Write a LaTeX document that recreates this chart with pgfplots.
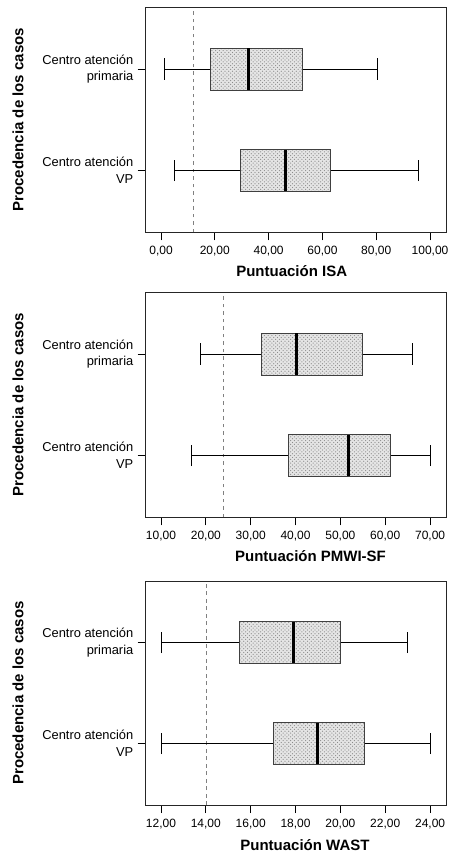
\documentclass[border=0pt]{standalone}
\usepackage{pgfplots}
\pgfplotsset{compat=1.18}
\usepgfplotslibrary{statistics}
\usetikzlibrary{patterns}
\usepackage{fontspec}
\setmainfont{Liberation Sans}
\begin{document}
\begin{tikzpicture}
\pgfplotsset{
  panel/.style={
    scale only axis,
    width=240.8pt,
    height=180pt,
    ymin=0.39, ymax=2.61,
    ytick={1,2},
    yticklabels={{Centro atención\\VP},{Centro atención\\primaria}},
    yticklabel style={align=right,font=\fontsize{10.3}{13.4}\selectfont},
    xticklabel style={font=\fontsize{9.6}{11}\selectfont, yshift=-1.5pt},
    tick align=outside,
    xtick pos=lower, ytick pos=left,
    major tick length=6.4pt,
    tick style={black, line width=0.6pt},
    axis line style={black!85, line width=0.7pt},
    /pgf/number format/.cd, fixed, fixed zerofill, precision=2, use comma, assume math mode=true,
    /pgfplots/.cd,
    ylabel={Procedencia de los casos},
    ylabel style={font=\fontsize{12}{14}\selectfont\bfseries, at={(axis description cs:-0.4244,0.5)}, anchor=center, rotate=0},
    boxplot/draw direction=x,
    boxplot/box extend=0.41,
    boxplot/whisker extend=0.21,
    boxplot/every box/.style={draw=black!75, line width=0.6pt, fill=black!10,
      postaction={pattern=crosshatch dots, pattern color=black!45}},
    boxplot/every whisker/.style={draw=black, line width=0.6pt},
    boxplot/every median/.style={draw=black, line width=2.4pt},
    clip=false,
  },
}
\useasboundingbox (0,0) rectangle (360pt,-684pt);
% Panel 1: ISA
\begin{axis}[panel, at={(116.56pt,-5.84pt)}, anchor=north west,
  xmin=-5.7, xmax=106.2, xtick={0,20,40,60,80,100},
  xlabel={Puntuación ISA},
  xlabel style={font=\fontsize{12}{14}\selectfont\bfseries, at={(axis description cs:0.485,-0.197)}, anchor=base}]
\addplot [gray, dashed, line width=0.5pt, forget plot] coordinates {(12,0.39) (12,2.61)};
\addplot [black, boxplot prepared={draw position=1, lower whisker=4.8, lower quartile=29.6, median=46.4, upper quartile=62.8, upper whisker=95.5}] coordinates {};
\addplot [black, boxplot prepared={draw position=2, lower whisker=1.2, lower quartile=18.5, median=32.6, upper quartile=52.5, upper whisker=80.4}] coordinates {};
\end{axis}
% Panel 2: PMWI-SF
\begin{axis}[panel, at={(116.56pt,-233.84pt)}, anchor=north west,
  xmin=6.59, xmax=73.7, xtick={10,20,30,40,50,60,70},
  xlabel={Puntuación PMWI-SF},
  xlabel style={font=\fontsize{12}{14}\selectfont\bfseries, at={(axis description cs:0.5475,-0.197)}, anchor=base}]
\addplot [gray, dashed, line width=0.5pt, forget plot] coordinates {(24,0.39) (24,2.61)};
\addplot [black, boxplot prepared={draw position=1, lower whisker=16.8, lower quartile=38.4, median=51.9, upper quartile=61.1, upper whisker=70.0}] coordinates {};
\addplot [black, boxplot prepared={draw position=2, lower whisker=18.7, lower quartile=32.4, median=40.3, upper quartile=55.0, upper whisker=66.1}] coordinates {};
\end{axis}
% Panel 3: WAST
\begin{axis}[panel, at={(116.56pt,-464.8pt)}, anchor=north west, height=179.2pt,
  xmin=11.32, xmax=24.74, xtick={12,14,16,18,20,22,24},
  xlabel={Puntuación WAST},
  xlabel style={font=\fontsize{12}{14}\selectfont\bfseries, at={(axis description cs:0.529,-0.205)}, anchor=base}]
\addplot [gray, dashed, line width=0.5pt, forget plot] coordinates {(14,0.39) (14,2.61)};
\addplot [black, boxplot prepared={draw position=1, lower whisker=12.0, lower quartile=17.0, median=19.0, upper quartile=21.05, upper whisker=24.0}] coordinates {};
\addplot [black, boxplot prepared={draw position=2, lower whisker=12.0, lower quartile=15.5, median=17.93, upper quartile=20.0, upper whisker=23.0}] coordinates {};
\end{axis}
\end{tikzpicture}
\end{document}
